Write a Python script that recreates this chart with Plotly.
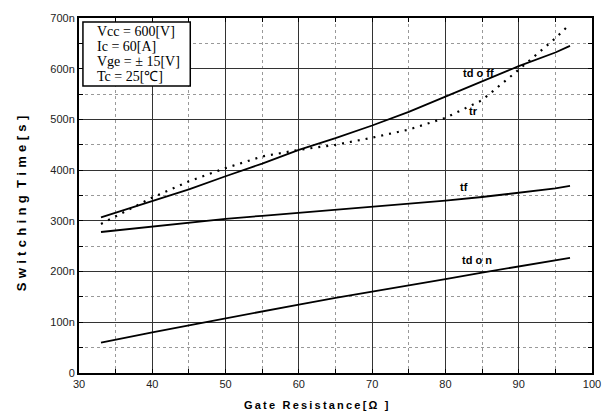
import plotly.graph_objects as go

# Gate resistance [ohm]
rg = [33, 35, 40, 45, 50, 55, 60, 65, 70, 75, 80, 85, 90, 95, 97]

# Switching times [ns]
tdoff = [307, 316, 338, 362, 388, 413, 440, 463, 488, 515, 545, 575, 605, 632, 645]
tr    = [294, 309, 346, 378, 404, 427, 440, 450, 464, 480, 503, 538, 598, 660, 688]
tf    = [278, 281, 288, 296, 304, 310, 316, 322, 327, 333, 340, 347, 355, 364, 369]
tdon  = [60, 66, 80, 94, 108, 122, 135, 148, 160, 173, 185, 198, 210, 221, 227]

series_labels = ["td o ff", "tr", "tf", "td o n"]
label_x = [84.5, 83.8, 82.5, 84.3]
label_y = [592, 516, 367, 223]

y_ticks = [0, 100, 200, 300, 400, 500, 600, 700]
y_ticktext = ["0", "100n", "200n", "300n", "400n", "500n", "600n", "700n"]
x_ticks = [30, 40, 50, 60, 70, 80, 90, 100]

cond_lines = ["Vcc = 600[V]", "Ic = 60[A]", "Vge = \u00b1 15[V]", "Tc = 25[\u2103]"]

TS = "\u2009"   # thin space, letter spacing of x title
TS3 = "\u2004"  # three-per-em space, letter spacing of y title
x_title = TS.join("Gate Resistance[\u03a9 ]")
y_title = TS3.join("Switching") + "  " + TS3.join("Time[s]")

PL, PR, PT, PB = 79, 13, 13, 45
W, H = 613, 418
pw, ph = W - PL - PR, H - PT - PB


def px2paper(px, py):
    return (px - PL) / pw, (H - PB - py) / ph


fig = go.Figure()
fig.add_trace(go.Scatter(x=rg, y=tdoff, mode="lines", line=dict(color="black", width=1.8)))
fig.add_trace(go.Scatter(x=rg, y=tr, mode="lines", line=dict(color="black", width=2.2, dash="2px,6px")))
fig.add_trace(go.Scatter(x=rg, y=tf, mode="lines", line=dict(color="black", width=1.8)))
fig.add_trace(go.Scatter(x=rg, y=tdon, mode="lines", line=dict(color="black", width=1.8)))

for t, xx, yy in zip(series_labels, label_x, label_y):
    fig.add_annotation(x=xx, y=yy, text="<b>" + t + "</b>", showarrow=False,
                       font=dict(family="Arial, Liberation Sans", size=11, color="black"))

# condition box
x0, y0 = px2paper(83, 82)
x1, y1 = px2paper(192, 17)
fig.add_shape(type="rect", xref="paper", yref="paper", x0=x0, y0=y0, x1=x1, y1=y1,
              line=dict(color="black", width=1.5), fillcolor="white", layer="above")
for i, line in enumerate(cond_lines):
    ax, ay = px2paper(95, 27 + 15 * i)
    fig.add_annotation(xref="paper", yref="paper", x=ax, y=ay, xanchor="left", yanchor="middle",
                       text=line, showarrow=False,
                       font=dict(family="Liberation Serif, Times New Roman", size=14, color="black"))

# axis titles
tx, ty = px2paper(320, 405)
fig.add_annotation(xref="paper", yref="paper", x=tx, y=ty, xanchor="center", yanchor="middle",
                   text="<b>" + x_title + "</b>", showarrow=False,
                   font=dict(family="Arial, Liberation Sans", size=11, color="black"))
tx, ty = px2paper(20, 201)
fig.add_annotation(xref="paper", yref="paper", x=tx, y=ty, xanchor="center", yanchor="middle",
                   text="<b>" + y_title + "</b>", showarrow=False, textangle=-90,
                   font=dict(family="Arial, Liberation Sans", size=13, color="black"))

axis_common = dict(showline=True, linecolor="black", linewidth=2, mirror="ticks",
                   ticks="inside", ticklen=4, tickcolor="black", showgrid=True,
                   gridcolor="#333333", gridwidth=1, zeroline=False,
                   tickfont=dict(family="Arial, Liberation Sans", size=11, color="#222222"))

fig.update_xaxes(range=[30, 100], tickvals=x_ticks,
                 minor=dict(dtick=5, tick0=30, showgrid=True, gridcolor="#999999", gridwidth=1,
                            griddash="dot", ticks="inside", ticklen=4, tickcolor="black"),
                 **axis_common)
fig.update_yaxes(range=[0, 700], tickvals=y_ticks, ticktext=y_ticktext,
                 minor=dict(dtick=50, tick0=0, showgrid=True, gridcolor="#999999", gridwidth=1,
                            griddash="dot", ticks="inside", ticklen=4, tickcolor="black"),
                 **axis_common)

fig.update_layout(width=W, height=H, margin=dict(l=PL, r=PR, t=PT, b=PB),
                  plot_bgcolor="white", paper_bgcolor="white", showlegend=False)

fig.write_html("out.html")
